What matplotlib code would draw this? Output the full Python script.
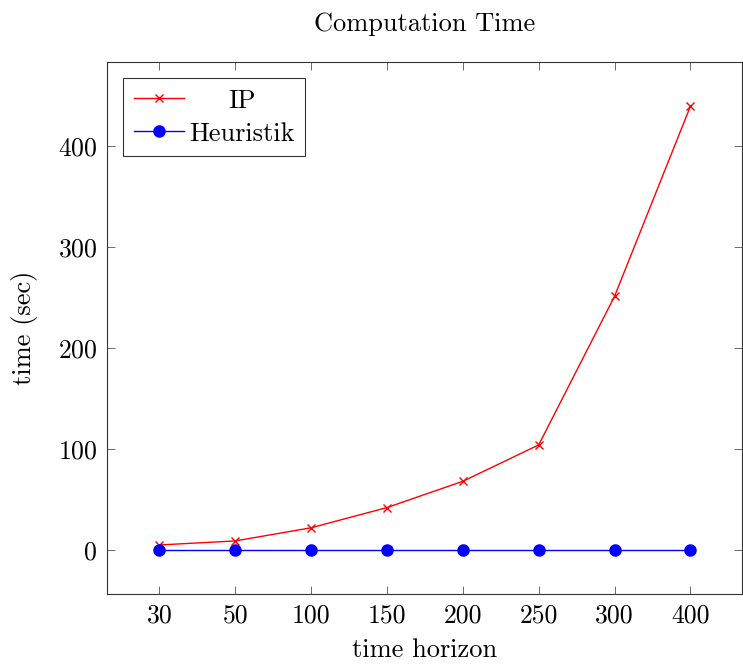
import matplotlib
matplotlib.use("Agg")
import matplotlib.pyplot as plt

plt.rcParams['font.family'] = ['cmr10', 'DejaVu Serif']
plt.rcParams['mathtext.fontset'] = 'cm'
plt.rcParams['axes.formatter.use_mathtext'] = True

horizons = ["30", "50", "100", "150", "200", "250", "300", "400"]
ip_times = [5, 9, 22, 42, 68, 104, 251, 439]
heur_times = [0.2, 0.2, 0.2, 0.2, 0.2, 0.2, 0.2, 0.2]

fig = plt.figure(figsize=(7.43, 6.64), dpi=100)
ax = fig.add_axes([107/743, 70/664, 635/743, 532/664])
x = list(range(len(horizons)))
ax.plot(x, ip_times, color='red', marker='x', markersize=6, linewidth=1, label='IP')
ax.plot(x, heur_times, color='blue', marker='o', markersize=8, linewidth=1, label='Heuristik')

ax.set_xticks(x)
ax.set_xticklabels(horizons)
ax.set_xlim(-0.69, 7.68)
ax.set_ylim(-43.5, 482.8)
ax.set_yticks([0, 100, 200, 300, 400])
ax.tick_params(direction='in', top=True, right=True, labelsize=18.5, length=6, width=0.6, color='#555555', pad=7)
for s in ax.spines.values():
    s.set_color('#333333')
    s.set_linewidth(0.8)
ax.set_xlabel('time horizon', fontsize=19, labelpad=8)
ax.set_ylabel('time (sec)', fontsize=19, labelpad=14)
ax.set_title('Computation Time', fontsize=19, pad=22)
leg = ax.legend(loc='upper left', fontsize=19, frameon=True, fancybox=False, edgecolor='black',
                borderaxespad=0.62, handlelength=1.9, handletextpad=0.2, borderpad=0.4, labelspacing=0.35)
leg.get_frame().set_linewidth(0.8)

fig.canvas.draw()
r = fig.canvas.get_renderer()
texts = leg.get_texts()
w0 = texts[0].get_window_extent(r).width
w1 = texts[1].get_window_extent(r).width
texts[0].set_position(((w1 - w0) / 2, 0))

fig.savefig('out.png', dpi=100)
